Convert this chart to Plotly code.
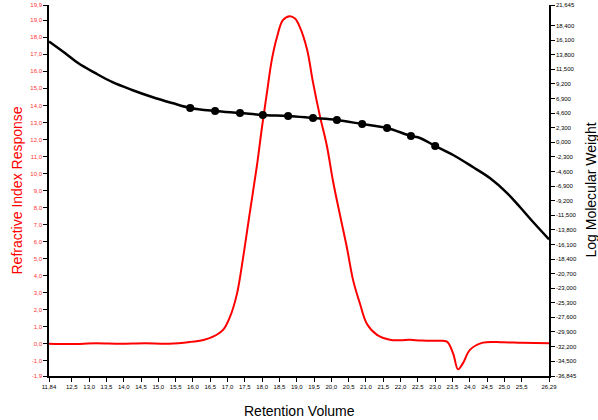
import plotly.graph_objects as go

# Refractive index response (red trace)
ri_x = [11.84, 12.5, 13.2, 13.9, 14.6, 15.3, 15.91, 16.3, 16.58, 16.87, 17.07, 17.27, 17.45, 17.65,
        17.85, 18.00, 18.14, 18.28, 18.43, 18.60, 18.80, 18.95, 19.09, 19.30, 19.47, 19.67,
        19.87, 20.05, 20.25, 20.45, 20.63, 20.83, 21.03, 21.32, 21.69, 22.0, 22.27, 22.6,
        23.05, 23.34, 23.52, 23.66, 23.80, 24.01, 24.38, 24.96, 25.5, 26.29]
ri_y = [0.0, -0.02, 0.02, -0.01, 0.02, 0.0, 0.1, 0.22, 0.41, 0.81, 1.57, 2.91, 5.06, 7.79,
        10.47, 12.79, 14.77, 16.69, 18.02, 19.01, 19.24, 19.1, 18.60, 17.27, 15.35, 13.37,
        11.63, 9.53, 7.56, 5.64, 3.72, 2.33, 1.16, 0.52, 0.23, 0.2, 0.23, 0.18,
        0.17, 0.12, -0.58, -1.51, -1.16, -0.35, 0.06, 0.08, 0.05, 0.02]

# Log molecular weight calibration curve (black)
mw_x = [11.84, 12.30, 12.68, 13.17, 13.66, 14.24, 14.82, 15.40, 15.92, 16.64, 17.36, 18.02,
        18.75, 19.47, 20.16, 20.89, 21.61, 22.30, 22.56, 23.00, 23.52, 24.09, 24.58, 25.08,
        25.45, 25.83, 26.29]
mw_y = [15.9, 14.08, 12.50, 10.93, 9.51, 8.25, 7.14, 6.19, 5.41, 4.93, 4.62, 4.30,
        4.14, 3.83, 3.52, 2.88, 2.25, 0.99, 0.68, -0.58, -2.00, -3.90, -5.63, -8.00,
        -10.20, -12.57, -15.3]

# Calibration standards (dots)
std_x = [15.92, 16.64, 17.36, 18.02, 18.75, 19.47, 20.16, 20.89, 21.61, 22.30, 23.00]
std_y = [5.41, 4.93, 4.62, 4.30, 4.14, 3.83, 3.52, 2.88, 2.25, 0.99, -0.58]

x_ticks = [11.84, 12.5, 13.0, 13.5, 14.0, 14.5, 15.0, 15.5, 16.0, 16.5, 17.0, 17.5, 18.0,
           18.5, 19.0, 19.5, 20.0, 20.5, 21.0, 21.5, 22.0, 22.5, 23.0, 23.5, 24.0, 24.5,
           25.0, 25.5, 26.29]
x_labels = ["11,84", "12,5", "13,0", "13,5", "14,0", "14,5", "15,0", "15,5", "16,0", "16,5",
            "17,0", "17,5", "18,0", "18,5", "19,0", "19,5", "20,0", "20,5", "21,0", "21,5",
            "22,0", "22,5", "23,0", "23,5", "24,0", "24,5", "25,0", "25,5", "26,29"]
y_ticks = [19.9] + [float(v) for v in range(19, -2, -1)] + [-1.9]
y_labels = ["19,9"] + [f"{v},0" for v in range(19, -2, -1)] + ["-1,9"]
y2_ticks = [21.645, 18.4, 16.1, 13.8, 11.5, 9.2, 6.9, 4.6, 2.3, 0.0, -2.3, -4.6, -6.9, -9.2,
            -11.5, -13.8, -16.1, -18.4, -20.7, -23.0, -25.3, -27.6, -29.9, -32.2, -34.5, -36.845]
y2_labels = ["21,645", "18,400", "16,100", "13,800", "11,500", "9,200", "6,900", "4,600",
             "2,300", "0,000", "-2,300", "-4,600", "-6,900", "-9,200", "-11,500", "-13,800",
             "-16,100", "-18,400", "-20,700", "-23,000", "-25,300", "-27,600", "-29,900",
             "-32,200", "-34,500", "-36,845"]

fig = go.Figure()
fig.add_trace(go.Scatter(x=ri_x, y=ri_y, mode="lines", line=dict(color="#ff0000", width=2),
                         line_shape="spline", yaxis="y", showlegend=False))
fig.add_trace(go.Scatter(x=mw_x, y=mw_y, mode="lines", line=dict(color="black", width=2.5),
                         line_shape="spline", yaxis="y2", showlegend=False))
fig.add_trace(go.Scatter(x=std_x, y=std_y, mode="markers", marker=dict(color="black", size=8),
                         yaxis="y2", showlegend=False))

fig.update_layout(
    width=598, height=420,
    margin=dict(l=49, r=49, t=5, b=44, autoexpand=False),
    paper_bgcolor="white", plot_bgcolor="white",
    font=dict(family="Arial, Liberation Sans, sans-serif"),
    xaxis=dict(range=[11.84, 26.29], tickvals=x_ticks, ticktext=x_labels,
               tickfont=dict(size=6, color="black"), ticks="outside", ticklen=4,
               tickcolor="black", showline=True, linecolor="black", linewidth=1.5,
               showgrid=False, zeroline=False, automargin=False),
    yaxis=dict(range=[-1.9, 19.9], tickvals=y_ticks, ticktext=y_labels,
               tickfont=dict(size=6, color="#ff3333"), ticks="outside", ticklen=4,
               tickcolor="black", showline=True, linecolor="black", linewidth=1.5,
               showgrid=False, zeroline=False, automargin=False),
    yaxis2=dict(range=[-36.845, 21.645], overlaying="y", side="right", tickvals=y2_ticks,
                ticktext=y2_labels, tickfont=dict(size=6, color="black"), ticks="outside",
                ticklen=4, tickcolor="black", showline=True, linecolor="black", linewidth=1.5,
                showgrid=False, zeroline=False, automargin=False),
    annotations=[
        dict(text="Refractive Index Response", xref="paper", yref="paper", x=-0.066, y=0.5,
             textangle=-90, showarrow=False, xanchor="center", yanchor="middle",
             font=dict(size=14, color="#ff0000")),
        dict(text="Log Molecular Weight", xref="paper", yref="paper", x=1.082, y=0.5,
             textangle=-90, showarrow=False, xanchor="center", yanchor="middle",
             font=dict(size=14, color="black")),
        dict(text="Retention Volume", xref="paper", yref="paper", x=0.5, y=-0.068,
             showarrow=False, xanchor="center", yanchor="top",
             font=dict(size=14, color="black")),
    ],
)

fig.write_html("out.html", config={"displayModeBar": False},
               post_script="document.body.style.margin='0';document.body.style.padding='0';")
